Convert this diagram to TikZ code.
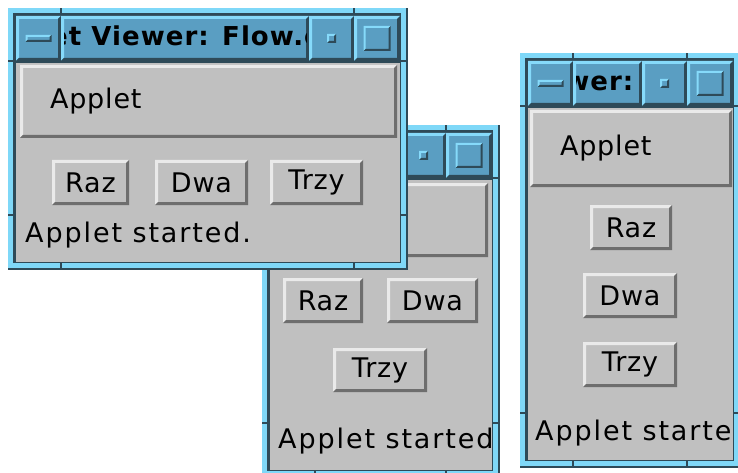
\documentclass[tikz,border=0pt]{standalone}
\usepackage{fontspec}
\newfontfamily\uifont[LetterSpace=3]{DejaVu Sans}
\newfontfamily\statusfont[LetterSpace=7]{DejaVu Sans}
\newfontfamily\titlefont[LetterSpace=4]{DejaVu Sans}
\definecolor{framecyan}{HTML}{7FD8F8}
\definecolor{framedark}{HTML}{2E4A58}
\definecolor{titleblue}{HTML}{5A9EC2}
\definecolor{titlelight}{HTML}{86DAFA}
\definecolor{wingrey}{HTML}{C0C0C0}
\definecolor{btnlight}{HTML}{EAEAEA}
\definecolor{btndark}{HTML}{6E6E6E}
\tikzset{
  bevel/.style n args={4}{fill=#1, path picture={
      \fill[#2] (path picture bounding box.north west) -- (path picture bounding box.north east)
        -- ++(-#4,-#4) -- ([shift={(#4,-#4)}]path picture bounding box.north west)
        -- ([shift={(#4,#4)}]path picture bounding box.south west)
        -- (path picture bounding box.south west) -- cycle;
      \fill[#3] (path picture bounding box.south east) -- (path picture bounding box.north east)
        -- ++(-#4,-#4) -- ([shift={(-#4,#4)}]path picture bounding box.south east)
        -- ([shift={(#4,#4)}]path picture bounding box.south west)
        -- (path picture bounding box.south west) -- cycle;}},
  tbtn/.style={bevel={titleblue}{titlelight}{framedark}{3pt}},
  ticon/.style={bevel={titleblue}{titlelight}{framedark}{2pt}},
  uitext/.style={font=\uifont\fontsize{27}{30}\selectfont, text=black, inner sep=0pt},
  statustext/.style={font=\statusfont\fontsize{27}{30}\selectfont, text=black, inner sep=0pt},
  titletext/.style={font=\titlefont\bfseries\fontsize{26}{29}\selectfont, text=black, inner sep=0pt},
  pbtn/.style={bevel={wingrey}{btnlight}{btndark}{3pt}, uitext},
  panel/.style={pbtn, inner xsep=30pt, align=left}
}
% window frame with title bar: left, top, right, bottom
\newcommand{\appframe}[4]{%
  \fill[framedark] (#1,#2) rectangle (#3,#4);
  \fill[framecyan] (#1,#2) rectangle (#3-2,#4-2);
  \fill[framedark] (#1+5,#2+5) rectangle (#3-7,#4-7);
  % notches
  \foreach \nx in {#1+53,#3-54} {
    \fill[framedark] (\nx-1,#2) rectangle (\nx+1,#2+5);
    \fill[framedark] (\nx-1,#4-7) rectangle (\nx+1,#4);
  }
  \foreach \ny in {#2+53,#4-55} {
    \fill[framedark] (#1,\ny-1) rectangle (#1+5,\ny+1);
    \fill[framedark] (#3-7,\ny-1) rectangle (#3,\ny+1);
  }
  % title bar
  \path[tbtn] (#1+8,#2+8) rectangle (#1+53,#2+53);
  \path[tbtn] (#1+53,#2+8) rectangle (#3-99,#2+53);
  \path[tbtn] (#3-99,#2+8) rectangle (#3-54,#2+53);
  \path[tbtn] (#3-54,#2+8) rectangle (#3-8,#2+53);
  \path[ticon] (#1+17.5,#2+27) rectangle (#1+43.5,#2+34);
  \path[ticon] (#3-81,#2+26) rectangle (#3-72,#2+35);
  \path[ticon] (#3-44.5,#2+18) rectangle (#3-17.5,#2+43);
  % client area
  \fill[wingrey] (#1+8,#2+55) rectangle (#3-8,#4-8);
}

\begin{document}
\begin{tikzpicture}[x=1pt,y=-1pt]
  \useasboundingbox (0,0) rectangle (738,473);
  \clip (0,0) rectangle (738,473);
  \fill[white] (0,0) rectangle (738,473);

  % middle window
  \appframe{262}{125}{500}{478}
  \path[pbtn] (272,183) rectangle (488,257);
  \node[pbtn, minimum width=80pt, minimum height=45pt] (razB) at (323,300.5) {Raz};
  \node[pbtn, minimum width=91pt, minimum height=45pt] (dwaB) at (432.5,300.5) {Dwa};
  \node[pbtn, minimum width=94pt, minimum height=44pt] (trzyB) at (380,370) {Trzy};
  \begin{scope}
    \clip (270,181) rectangle (490,470);
    \node[statustext, anchor=base west] (statusB) at (278,448) {Applet started.};
  \end{scope}

  % front window
  \appframe{8}{8}{408}{270}
  \begin{scope}
    \clip (64,19) rectangle (306,58);
    \node[titletext] (titleA) at (180.5,38.5) {Applet Viewer: Flow.class};
  \end{scope}
  \node[panel, text width=317pt, minimum height=73pt] (appletA) at (208.5,101.5) {Applet};
  \node[pbtn, minimum width=77pt, minimum height=45pt] (razA) at (90.5,182.5) {Raz};
  \node[pbtn, minimum width=93pt, minimum height=45pt] (dwaA) at (201.5,182.5) {Dwa};
  \node[pbtn, minimum width=93pt, minimum height=45pt] (trzyA) at (316.5,182.5) {Trzy};
  \node[statustext, anchor=base west] (statusA) at (25,242) {Applet started.};

  % right window
  \appframe{520}{53}{741}{468}
  \begin{scope}
    \clip (576,64) rectangle (640,103);
    \node[titletext] (titleC) at (605,83.5) {Applet Viewer: Flow.class};
  \end{scope}
  \node[panel, text width=142pt, minimum height=77pt] (appletC) at (631,148.5) {Applet};
  \node[pbtn, minimum width=82pt, minimum height=45pt] (razC) at (631,227.5) {Raz};
  \node[pbtn, minimum width=94pt, minimum height=45pt] (dwaC) at (630,295.5) {Dwa};
  \node[pbtn, minimum width=94pt, minimum height=45pt] (trzyC) at (630,364.5) {Trzy};
  \begin{scope}
    \clip (528,108) rectangle (732,460);
    \node[statustext, anchor=base west] (statusC) at (535,440) {Applet started.};
  \end{scope}
\end{tikzpicture}
\end{document}
